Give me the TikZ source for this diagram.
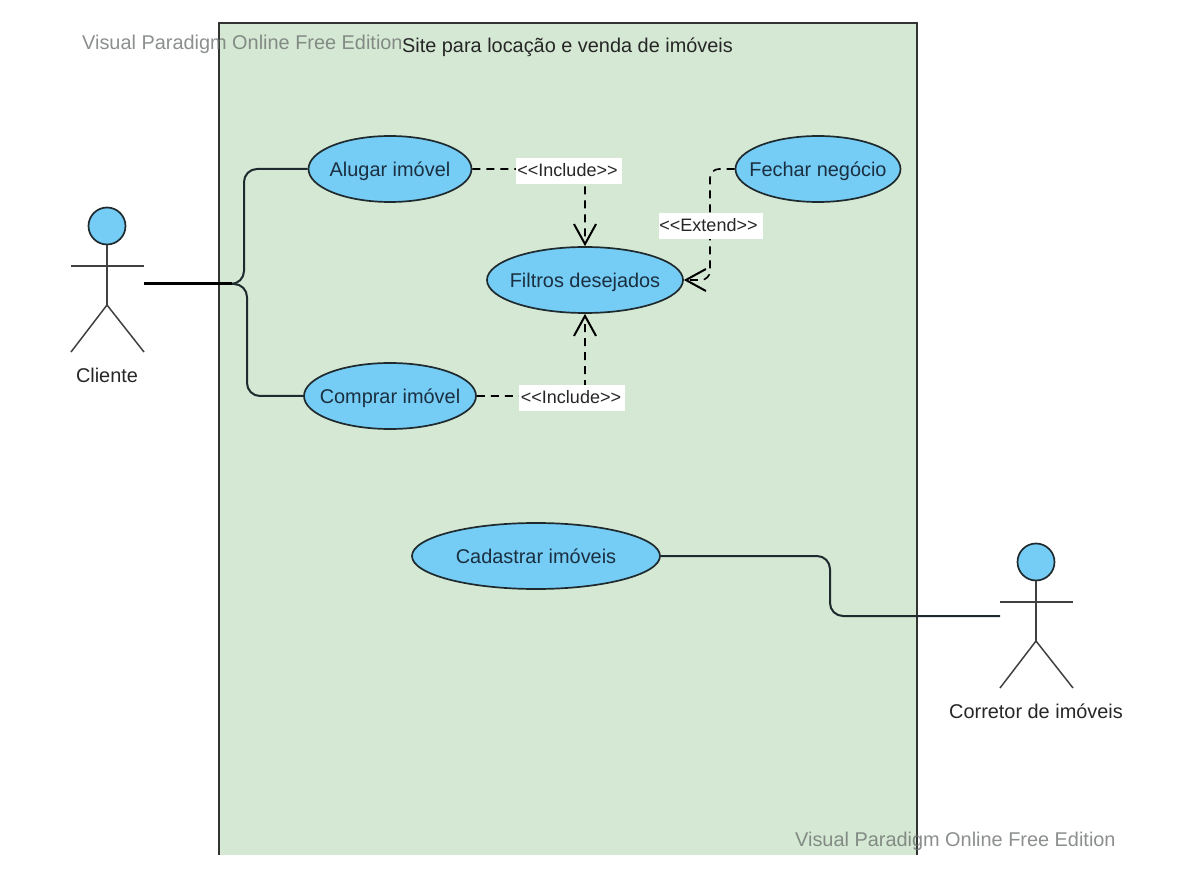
\documentclass[tikz,border=0pt]{standalone}
\usepackage{fontspec}
\setmainfont{Liberation Sans}
\usetikzlibrary{shapes.geometric,arrows.meta}
\definecolor{sysgreen}{HTML}{D5E8D4}
\definecolor{ucblue}{HTML}{75CCF5}
\definecolor{inkdark}{HTML}{1F2A2E}
\definecolor{wmgray}{HTML}{6E7370}
\definecolor{uctext}{HTML}{1A2F40}
\newcommand{\uctxt}[1]{\makebox[0pt]{#1}}
\tikzset{
  x=1pt,y=-1pt,
  usecase/.style={draw=inkdark,fill=ucblue,line width=1.7pt,shape=ellipse,inner sep=0pt,minimum height=66pt,text=uctext,text height=19pt,text depth=4pt,font=\fontsize{19.9}{22}\selectfont},
  headnode/.style={draw=inkdark,fill=ucblue,line width=1.7pt,shape=circle,inner sep=0pt,minimum size=37pt},
  limb/.style={draw=black!75,line width=1.5pt},
  assoc/.style={draw=inkdark,line width=2pt,rounded corners=13pt},
  trunk/.style={draw=black,line width=3pt},
  depend/.style={draw=black,line width=1.6pt,dashed,dash pattern=on 8pt off 6pt,rounded corners=9pt},
  opentip/.style={-{Straight Barb[length=20pt,width=22pt,line width=2pt]}},
  stereo/.style={fill=white,inner sep=0pt,minimum height=26pt,text=black!85,text height=14pt,text depth=3pt,font=\fontsize{18}{20}\selectfont},
  caption/.style={text=black!85,text height=18pt,text depth=4pt,font=\fontsize{19.9}{22}\selectfont},
  watermark/.style={text=wmgray,opacity=.8,text height=18pt,text depth=4pt,font=\fontsize{19.9}{22}\selectfont,inner sep=0pt}
}
\begin{document}
\begin{tikzpicture}
\useasboundingbox (0,0) rectangle (1178,882);
\fill[sysgreen] (219,23) rectangle (917,855);
\draw[draw=black!80,line width=1.7pt] (219,855) -- (219,23) -- (917,23) -- (917,855);
\node[caption,inner sep=0pt] (title) at (567.5,46) {Site para locação e venda de imóveis};

\node[usecase,minimum width=163pt] (alugar) at (390,169) {\uctxt{Alugar imóvel}};
\node[usecase,minimum width=172pt] (comprar) at (390,396) {\uctxt{Comprar imóvel}};
\node[usecase,minimum width=196pt] (filtros) at (585,280) {\uctxt{Filtros desejados}};
\node[usecase,minimum width=165pt] (fechar) at (818,169) {\uctxt{Fechar negócio}};
\node[usecase,minimum width=248pt] (cadastrar) at (536,556) {\uctxt{Cadastrar imóveis}};

% actor Cliente
\node[headnode] (headA) at (107,226) {};
\coordinate (hipA) at (107,305);
\draw[limb] (headA) -- (hipA);
\coordinate (handAl) at (71,266); \coordinate (handAr) at (144,266);
\draw[limb] (handAl) -- (handAr);
\coordinate (footAl) at (71,352); \coordinate (footAr) at (144,352);
\draw[limb] (footAl) -- (hipA) -- (footAr);
\node[caption] (cliente) at (107,376) {Cliente};
\coordinate (portA) at (144,284);
\coordinate (forkA) at (232,284);

% actor Corretor
\node[headnode] (headB) at (1036,562) {};
\coordinate (hipB) at (1036,641);
\draw[limb] (headB) -- (hipB);
\coordinate (handBl) at (1000,602); \coordinate (handBr) at (1073,602);
\draw[limb] (handBl) -- (handBr);
\coordinate (footBl) at (1000,688); \coordinate (footBr) at (1073,688);
\draw[limb] (footBl) -- (hipB) -- (footBr);
\node[caption] (corretor) at (1036,711) {Corretor de imóveis};
\coordinate (portB) at (1000,616);

% associations
\draw[assoc] (portA) -- (244,284) |- (alugar.west);
\draw[assoc] (portA) -- (247,284) |- (comprar.west);
\draw[trunk] (portA) -- (forkA);
\draw[assoc] (cadastrar.east) -| (830,616) -- (portB);

% dependencies
\coordinate (bendI) at (filtros.north |- alugar.east);
\draw[depend,opentip] (alugar.east) -- (bendI) -- (filtros.north);
\coordinate (bendJ) at (filtros.south |- comprar.east);
\draw[depend,opentip] (comprar.east) -- (bendJ) -- (filtros.south);
\coordinate (bendE) at (710,169);
\coordinate (bendF) at (710,280);
\draw[depend,opentip] (fechar.west) -- (bendE) -- (bendF) -- (filtros.east);

\node[stereo,minimum width=106pt] (inc1) at (569,171) {\hspace*{-3pt}{<}{<}Include{>}{>}};
\node[stereo,minimum width=106pt] (inc2) at (572,398) {\hspace*{-2pt}{<}{<}Include{>}{>}};
\node[stereo,minimum width=104pt] (ext) at (711,226) {\hspace*{-5pt}{<}{<}Extend{>}{>}};

\node[watermark,anchor=west] (wm1) at (82,43) {Visual Paradigm Online Free Edition};
\node[watermark,anchor=west] (wm2) at (795,839) {Visual Paradigm Online Free Edition};
\end{tikzpicture}
\end{document}
